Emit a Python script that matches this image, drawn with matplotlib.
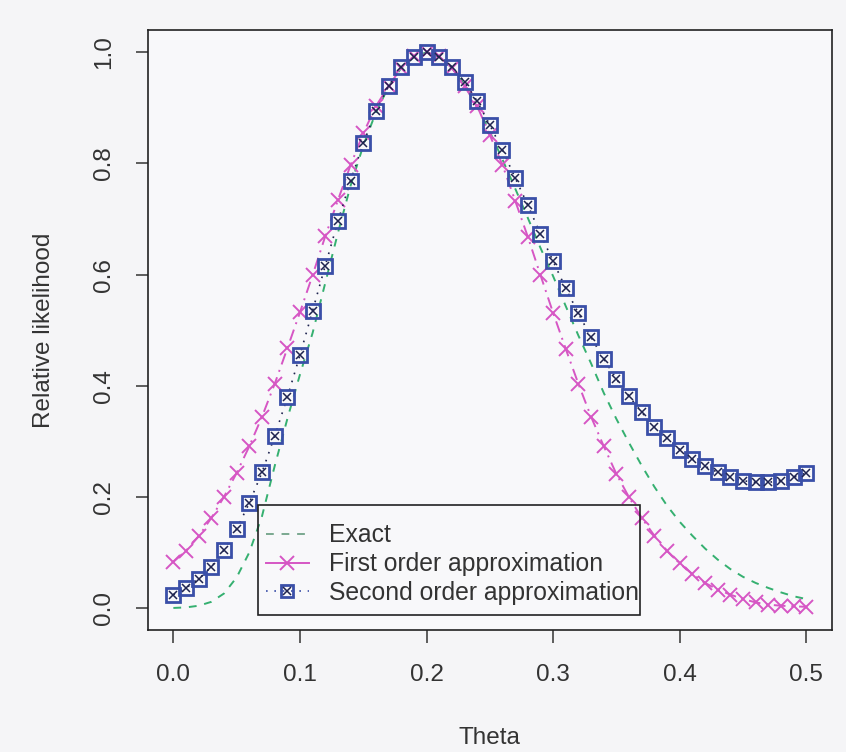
import numpy as np
import matplotlib.pyplot as plt
from matplotlib.lines import Line2D
from matplotlib.patches import Rectangle
from matplotlib.legend_handler import HandlerTuple

plt.rcParams['font.family'] = ['Liberation Sans', 'DejaVu Sans']

# grid of theta values
theta = np.linspace(0, 0.5, 51)

# exact relative likelihood
exact = [0.000, 0.001, 0.004, 0.011, 0.026, 0.055, 0.100, 0.165, 0.255, 0.340, 0.420,
         0.495, 0.585, 0.675, 0.760, 0.832, 0.892, 0.938, 0.972, 0.992, 1.000,
         0.992, 0.972, 0.941, 0.902, 0.857, 0.807, 0.755, 0.702, 0.648, 0.597,
         0.543, 0.490, 0.440, 0.387, 0.340, 0.297, 0.256, 0.218, 0.184, 0.155,
         0.130, 0.107, 0.087, 0.070, 0.056, 0.045, 0.036, 0.028, 0.021, 0.016]

# first order approximation
first = [0.083, 0.103, 0.129, 0.162, 0.200, 0.243, 0.291, 0.344, 0.403, 0.467, 0.532,
         0.599, 0.669, 0.734, 0.797, 0.854, 0.903, 0.939, 0.972, 0.993, 1.000,
         0.993, 0.972, 0.939, 0.903, 0.851, 0.797, 0.733, 0.668, 0.599, 0.531,
         0.466, 0.403, 0.344, 0.291, 0.241, 0.199, 0.162, 0.130, 0.103, 0.080,
         0.061, 0.045, 0.033, 0.024, 0.016, 0.010, 0.006, 0.004, 0.003, 0.002]

# second order approximation
second = [0.024, 0.036, 0.052, 0.074, 0.104, 0.142, 0.189, 0.244, 0.309, 0.379, 0.455,
          0.535, 0.616, 0.696, 0.769, 0.836, 0.894, 0.939, 0.973, 0.991, 1.000,
          0.992, 0.974, 0.947, 0.912, 0.869, 0.824, 0.774, 0.725, 0.673, 0.624,
          0.575, 0.530, 0.487, 0.448, 0.412, 0.381, 0.352, 0.326, 0.305, 0.285,
          0.268, 0.255, 0.244, 0.235, 0.229, 0.226, 0.226, 0.229, 0.235, 0.243]

green = '#35b070'
pink = '#d656c4'
blue = '#3a4fa8'
navy = '#1f2450'
txt = '#333333'

fig = plt.figure(figsize=(8.46, 7.52), dpi=100, facecolor='#f5f5f7')
ax = fig.add_axes([0.175, 0.162, 0.808, 0.798])
ax.set_facecolor('#f8f8fa')

ax.plot(theta, exact, color=green, lw=1.4, dashes=(4, 4))
ax.plot(theta, first, color=pink, lw=1.4, dashes=(6, 3, 1, 3),
        marker='x', ms=10, mew=1.4)
ax.plot(theta, second, color=navy, lw=1.2, ls=(0, (1, 4)),
        marker='s', ms=9.5, mfc='none', mec=blue, mew=2)
ax.plot(theta, second, ls='none', marker='x', ms=6, color=navy, mew=1.1)

ax.set_xlim(-0.02, 0.52)
ax.set_ylim(-0.04, 1.04)
ax.set_xticks([0.0, 0.1, 0.2, 0.3, 0.4, 0.5])
ax.set_yticks([0.0, 0.2, 0.4, 0.6, 0.8, 1.0])
ax.set_xticklabels(['0.0', '0.1', '0.2', '0.3', '0.4', '0.5'])
ax.set_yticklabels(['0.0', '0.2', '0.4', '0.6', '0.8', '1.0'], rotation=90, va='center')
ax.tick_params(direction='out', length=9, width=1.1, color='#333333',
               labelsize=17.5, labelcolor=txt, pad=15)
for s in ax.spines.values():
    s.set_linewidth(1.2)
    s.set_color('#222222')

ax.set_xlabel('Theta', fontsize=17.5, color=txt, labelpad=30)
ax.set_ylabel('Relative likelihood', fontsize=17.5, color=txt, labelpad=27)

# legend box
ax.add_patch(Rectangle((0.161, 0.025), 0.558, 0.183, transform=ax.transAxes,
                       fill=False, edgecolor='#222222', lw=1.2, zorder=5))

h_exact = Line2D([], [], color='#7aa890', lw=1.4, dashes=(4, 4))
h_first = Line2D([], [], color=pink, lw=1.4, marker='x', ms=10, mew=1.4)
h_sq = Line2D([], [], color=blue, lw=1.2, ls=(0, (1, 4)),
              marker='s', ms=9, mfc='none', mec=blue, mew=2)
h_x = Line2D([], [], ls='none', marker='x', ms=5.5, color=navy, mew=1.1)
leg = ax.legend([h_exact, h_first, (h_sq, h_x)],
                ['Exact', 'First order approximation', 'Second order approximation'],
                handler_map={tuple: HandlerTuple(ndivide=1)},
                loc='center left', bbox_to_anchor=(0.161, 0.11),
                fontsize=17.8, numpoints=1, handlelength=1.75,
                handletextpad=0.8, labelspacing=0.2, borderpad=0.3,
                frameon=False, borderaxespad=0)
for t in leg.get_texts():
    t.set_color(txt)

fig.savefig('out.png', dpi=100, facecolor=fig.get_facecolor())
